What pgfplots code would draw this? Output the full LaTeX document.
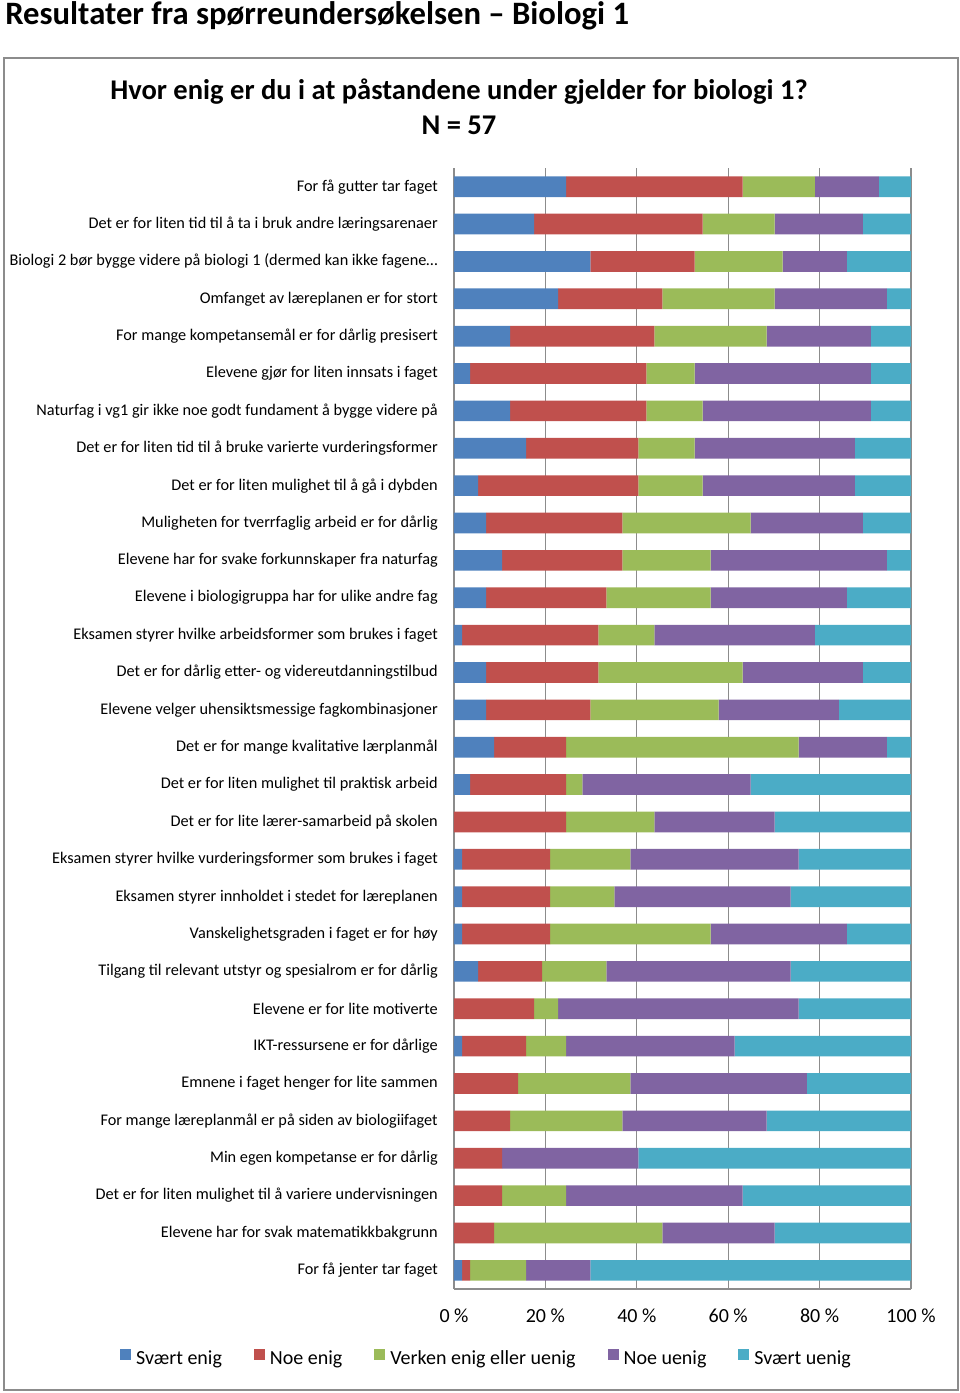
\documentclass[border=0pt]{standalone}
\usepackage{fontspec}
\setmainfont{Carlito}
\usepackage{pgfplots}
\usepackage{pgfplotstable}
\pgfplotsset{compat=1.18}
\definecolor{cA}{HTML}{4F81BD}
\definecolor{cB}{HTML}{C0504D}
\definecolor{cC}{HTML}{9BBB59}
\definecolor{cD}{HTML}{8064A2}
\definecolor{cE}{HTML}{4BACC6}
\definecolor{gridc}{HTML}{8C8C8C}
\pgfplotstableread{
idx a b c d e
0 14 22 9 8 4
1 10 21 9 11 6
2 17 13 11 8 8
3 13 13 14 14 3
4 7 18 14 13 5
5 2 22 6 22 5
6 7 17 7 21 5
7 9 14 7 20 7
8 3 20 8 19 7
9 4 17 16 14 6
10 6 15 11 22 3
11 4 15 13 17 8
12 1 17 7 20 12
13 4 14 18 15 6
14 4 13 16 15 9
15 5 9 29 11 3
16 2 12 2 21 20
17 0 14 11 15 17
18 1 11 10 21 14
19 1 11 8 22 15
20 1 11 20 17 8
21 3 8 8 23 15
22 0 10 3 30 14
23 1 8 5 21 22
24 0 8 14 22 13
25 0 7 14 18 18
26 0 6 0 17 34
27 0 6 8 22 21
28 0 5 21 14 17
29 1 1 7 8 40
}\datatable
\begin{document}
\begin{tikzpicture}
\path[use as bounding box] (0pt,0pt) rectangle (720pt,-1044.75pt);
\draw[gridc, line width=1.1pt] (3pt,-43.5pt) rectangle (718.5pt,-1042.5pt);
\node[anchor=base west, inner sep=0pt, font=\fontsize{24.5}{28}\selectfont\bfseries] at (3.75pt,-18pt) {Resultater fra spørreundersøkelsen – Biologi 1};
\node[anchor=base, inner sep=0pt, font=\fontsize{21.4}{25}\selectfont\bfseries] at (344.25pt,-74.25pt) {Hvor enig er du i at påstandene under gjelder for biologi 1?};
\node[anchor=base, inner sep=0pt, font=\fontsize{21.4}{25}\selectfont\bfseries] at (344.25pt,-100.5pt) {N = 57};
\begin{axis}[
  at={(340.5pt,-966.75pt)}, anchor=south west,
  scale only axis, width=342.75pt, height=840.75pt,
  xbar stacked, bar width=15.5pt,
  xmin=0, xmax=57, ymin=-0.5, ymax=29.5,
  y dir=reverse,
  axis x line*=bottom, axis y line*=left,
  axis line style={gridc, line width=0.8pt, -},
  xmajorgrids, grid style={gridc, line width=0.8pt},
  major tick length=0pt,
  xtick={0,11.4,22.8,34.2,45.6,57},
  xticklabels={0 \%,20 \%,40 \%,60 \%,80 \%,100 \%},
  xticklabel style={anchor=base, inner sep=0pt, yshift=-24.75pt, font=\fontsize{15}{18}\selectfont},
  ytick={0,...,29},
  yticklabels={
    For få gutter tar faget,
    Det er for liten tid til å ta i bruk andre læringsarenaer,
    Biologi 2 bør bygge videre på biologi 1 (dermed kan ikke fagene…,
    Omfanget av læreplanen er for stort,
    For mange kompetansemål er for dårlig presisert,
    Elevene gjør for liten innsats i faget,
    Naturfag i vg1 gir ikke noe godt fundament å bygge videre på,
    Det er for liten tid til å bruke varierte vurderingsformer,
    Det er for liten mulighet til å gå i dybden,
    Muligheten for tverrfaglig arbeid er for dårlig,
    Elevene har for svake forkunnskaper fra naturfag,
    Elevene i biologigruppa har for ulike andre fag,
    Eksamen styrer hvilke arbeidsformer som brukes i faget,
    Det er for dårlig etter- og videreutdanningstilbud,
    Elevene velger uhensiktsmessige fagkombinasjoner,
    Det er for mange kvalitative lærplanmål,
    Det er for liten mulighet til praktisk arbeid,
    Det er for lite lærer-samarbeid på skolen,
    Eksamen styrer hvilke vurderingsformer som brukes i faget,
    Eksamen styrer innholdet i stedet for læreplanen,
    Vanskelighetsgraden i faget er for høy,
    Tilgang til relevant utstyr og spesialrom er for dårlig,
    Elevene er for lite motiverte,
    IKT-ressursene er for dårlige,
    Emnene i faget henger for lite sammen,
    For mange læreplanmål er på siden av biologiifaget,
    Min egen kompetanse er for dårlig,
    Det er for liten mulighet til å variere undervisningen,
    Elevene har for svak matematikkbakgrunn,
    For få jenter tar faget},
  yticklabel style={anchor=east, inner sep=0pt, xshift=-12pt, font=\fontsize{12.2}{14}\selectfont},
  /pgf/number format/assume math mode=true,
  legend columns=5,
  legend style={draw=none, fill=none, at={(0.0689,-0.0616)}, anchor=center,
    font=\fontsize{15}{18}\selectfont,
    nodes={inner sep=0pt},
    /tikz/every odd column/.append style={column sep=3.75pt},
    /tikz/every even column/.append style={column sep=24pt}},
  legend image code/.code={\fill[#1] (0pt,-1.1pt) rectangle (8.25pt,7.15pt);},
]
\addplot[fill=cA, draw=none] table[x=a, y=idx] {\datatable};
\addplot[fill=cB, draw=none] table[x=b, y=idx] {\datatable};
\addplot[fill=cC, draw=none] table[x=c, y=idx] {\datatable};
\addplot[fill=cD, draw=none] table[x=d, y=idx] {\datatable};
\addplot[fill=cE, draw=none] table[x=e, y=idx] {\datatable};
\legend{Svært enig, Noe enig, Verken enig eller uenig, Noe uenig, Svært uenig}
\end{axis}
\end{tikzpicture}
\end{document}
